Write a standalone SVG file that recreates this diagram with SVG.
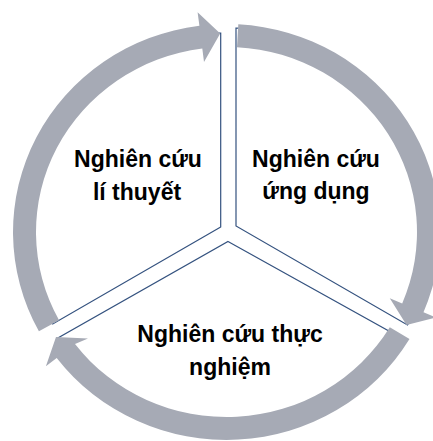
<svg xmlns="http://www.w3.org/2000/svg" width="433" height="441" viewBox="0 0 433 441">
<style>
.sector{fill:#ffffff;stroke:#34527f;stroke-width:1.2;stroke-linejoin:miter}
.arrow{fill:#a6aab5;stroke:none}
.label{font-family:"Liberation Sans",Arial,sans-serif;font-weight:bold;font-size:23px;fill:#000000;text-anchor:middle}
</style>
<rect width="433" height="441" fill="#ffffff"/>
<g id="node-theory">
<path class="sector" d="M220.7,227 L52.7,324 A194,194 0 0 1 220.7,33 Z"/>
<text class="label" x="138" y="167">Nghiên cứu</text>
<text class="label" x="137" y="200">lí thuyết</text>
</g>
<g id="node-applied">
<path class="sector" d="M236,226 L236,28 A198,198 0 0 1 407.5,325 Z"/>
<text class="label" x="316" y="167">Nghiên cứu</text>
<text class="label" x="316" y="199">ứng dụng</text>
</g>
<g id="node-experimental">
<path class="sector" d="M228,241.5 L405,340 A200,190 0 0 1 57,338.5 Z"/>
<text class="label" x="230" y="342">Nghiên cứu thực</text>
<text class="label" x="230" y="375">nghiệm</text>
</g>
<g id="connectors">
<path class="arrow" d="M38.9,331.3 A213.5,208 0 0 1 199.4,25.7 L197.6,12.3 L220.2,33.5 L204.0,61.9 L202.3,48.5 A190.5,185 0 0 0 59.1,320.3 Z"/>
<path class="arrow" d="M238.3,24.3 A213.5,208 0 0 1 423.5,312.3 L435.9,317.5 L406.5,325 L389.8,298.2 L402.2,303.4 A190.5,185 0 0 0 237,47.2 Z"/>
<path class="arrow" d="M409.5,339.1 A213.5,208 0 0 1 56.7,358.0 L45.9,366.2 L56,337 L88,338.5 L75.0,344.1 A190.5,185 0 0 0 389.8,327.3 Z"/>
</g>
</svg>
